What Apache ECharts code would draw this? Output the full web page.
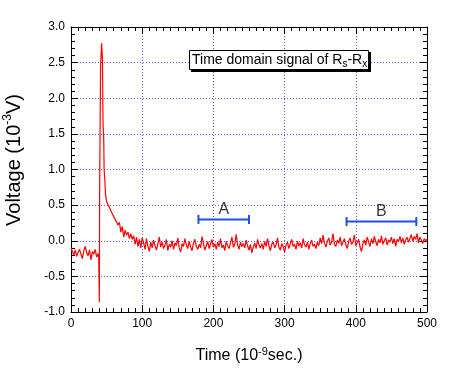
<!DOCTYPE html>
<html><head><meta charset="utf-8">
<script src="https://cdn.jsdelivr.net/npm/echarts@6/dist/echarts.min.js"></script>
<style>html,body{margin:0;padding:0;background:#fff}#c{width:454px;height:369px}</style>
</head><body><div id="c"></div>
<script>
// ---- data ----
const xTickLabels = ['0','100','200','300','400','500'];
const yTickLabels = ['-1.0','-0.5','0.0','0.5','1.0','1.5','2.0','2.5','3.0'];
const sampleStep = 2; // ns between regular samples
// baseline before the pulse, t = 0..38 ns
const preStart = 0;
const preValues = [-0.10,-0.15,-0.20,-0.13,-0.22,-0.16,-0.12,-0.19,-0.25,-0.14,
                   -0.08,-0.17,-0.21,-0.13,-0.27,-0.15,-0.19,-0.12,-0.23,-0.18];
// the pulse itself (irregular times)
const spikeTimes  = [39, 39.8, 40.2, 41.5, 43, 44.2, 45, 46, 46.5, 47.5, 48.5];
const spikeValues = [-0.26,-0.86,0.62,2.45,2.77,2.55,1.64,1.42,1.00,0.86,0.65];
// decay, t = 50..100 ns
const decayStart = 50;
const decayValues = [0.55,0.50,0.47,0.42,0.38,0.36,0.30,0.32,0.22,0.26,
                     0.12,0.20,0.05,0.15,0.08,0.12,0.03,0.10,0.02,0.07,
                     -0.05,0.05,-0.08,0.02,-0.10,0.04];
// tail, t = 102..500 ns
const tailStart = 102;
const tailValues = [
 -0.03,-0.12,0.03,-0.08,-0.15,-0.02,-0.10,0.01,-0.07,-0.13,
 -0.04,0.05,-0.09,-0.02,-0.11,-0.06,0.02,-0.14,-0.05,-0.09,
 0.00,-0.12,-0.03,-0.07,0.04,-0.10,-0.16,-0.04,-0.08,0.03,
 -0.06,-0.11,-0.01,-0.09,-0.14,-0.03,0.02,-0.08,-0.12,-0.05,
 -0.10,0.06,-0.04,-0.13,-0.07,-0.01,-0.11,-0.05,0.02,-0.09,
 -0.04,-0.12,-0.02,-0.08,0.03,-0.10,-0.06,-0.14,-0.01,-0.07,
 -0.11,-0.03,0.05,-0.09,-0.05,0.09,-0.06,-0.12,-0.02,-0.08,
 -0.04,-0.10,0.01,-0.07,-0.13,-0.05,-0.17,-0.09,-0.03,-0.11,
 0.02,-0.06,-0.10,-0.04,-0.12,-0.01,-0.08,0.03,-0.07,-0.14,
 -0.05,-0.02,-0.10,-0.06,0.04,-0.09,-0.13,-0.04,-0.08,-0.16,
 -0.06,-0.02,-0.11,-0.04,0.02,-0.08,-0.05,-0.12,-0.01,-0.07,
 -0.03,-0.10,0.03,-0.06,-0.09,-0.02,-0.12,-0.04,0.01,-0.08,
 -0.05,-0.11,-0.02,-0.07,0.04,
 -0.04,0.08,-0.03,-0.09,-0.01,0.04,-0.06,-0.02,0.10,-0.05,
 -0.08,0.01,-0.04,0.05,-0.07,-0.02,0.03,-0.06,-0.11,-0.01,
 0.04,-0.05,-0.02,0.08,-0.07,-0.03,0.02,-0.09,-0.15,-0.04,
 0.01,-0.06,0.05,-0.02,-0.08,0.03,-0.04,0.06,-0.01,-0.07,
 0.02,-0.03,0.07,-0.05,0.00,0.04,-0.06,0.01,-0.02,0.05,
 -0.04,0.03,-0.08,0.02,-0.01,0.06,-0.03,0.04,-0.05,0.01,
 0.05,-0.02,0.03,0.09,-0.01,0.06,0.02,0.10,-0.03,0.05,
 0.01,-0.04,0.03,0.00,0.02];
const markerNames = ['A','B'];
const markerFrom  = [179, 387];
const markerTo    = [250, 485];
const markerLevel = [0.30, 0.27];

// ---- build ----
const signal = [];
preValues.forEach((v,i)=>signal.push([preStart+i*sampleStep, v]));
spikeValues.forEach((v,i)=>signal.push([spikeTimes[i], v]));
decayValues.forEach((v,i)=>signal.push([decayStart+i*sampleStep, v]));
tailValues.forEach((v,i)=>signal.push([tailStart+i*sampleStep, v]));

const FONT = 'Liberation Sans, Arial, Helvetica, sans-serif';
const blue = '#1f4fe6';
const gridCol = '#5a5ae6';

const markerSeries = [];
markerNames.forEach((n,i)=>{
  markerSeries.push({
    type:'line', data:[[markerFrom[i],markerLevel[i]],[markerTo[i],markerLevel[i]]],
    symbol:'rect', symbolSize:[2,9], showSymbol:true,
    lineStyle:{color:blue,width:2}, itemStyle:{color:blue}, silent:true, z:5
  });
  markerSeries.push({
    type:'scatter', data:[[(markerFrom[i]+markerTo[i])/2, markerLevel[i]]],
    symbolSize:1, itemStyle:{color:'rgba(0,0,0,0)'}, silent:true,
    label:{show:true, position:'top', distance:1, formatter:n,
           color:'#000', fontSize:16, fontFamily:FONT}
  });
});

const xBase = {
  type:'value', min:0, max:500, interval:100,
  axisLine:{show:true, onZero:false, lineStyle:{color:'#000',width:1}},
  axisTick:{show:true, inside:true, length:7, lineStyle:{color:'#000'}},
  minorTick:{show:true, splitNumber:10, length:4, lineStyle:{color:'#000'}},
};
const yBase = {
  type:'value', min:-1, max:3, interval:0.5,
  axisLine:{show:true, onZero:false, lineStyle:{color:'#000',width:1}},
  axisTick:{show:true, inside:true, length:7, lineStyle:{color:'#000'}},
  minorTick:{show:true, splitNumber:5, length:4, lineStyle:{color:'#000'}},
};

const chart = echarts.init(document.getElementById('c'), null, {renderer:'canvas'});
chart.setOption({
  animation:false,
  backgroundColor:'#fff',
  grid:{left:71, right:27, top:27, bottom:56},
  xAxis:[
    Object.assign({}, xBase, {
      position:'bottom',
      axisLabel:{color:'#000', fontSize:12, fontFamily:FONT, margin:6,
                 formatter:(v)=>xTickLabels[Math.round(v/100)]},
      splitLine:{show:true, lineStyle:{color:gridCol, type:[1,2], width:1}},
      name:'{a|Time (10}{s|-9}{a|sec.)}', nameLocation:'middle', nameGap:34,
      nameTextStyle:{rich:{
        a:{fontSize:16, fontFamily:FONT, color:'#000', lineHeight:20},
        s:{fontSize:11, fontFamily:FONT, color:'#000', lineHeight:20, verticalAlign:'top'}
      }}
    }),
    Object.assign({}, xBase, {position:'top', axisLabel:{show:false}, splitLine:{show:false}})
  ],
  yAxis:[
    Object.assign({}, yBase, {
      position:'left',
      axisLabel:{color:'#000', fontSize:12, fontFamily:FONT, margin:6,
                 formatter:(v)=>yTickLabels[Math.round((v+1)*2)]},
      splitLine:{show:true, lineStyle:{color:gridCol, type:[1,2], width:1}}
    }),
    Object.assign({}, yBase, {position:'right', axisLabel:{show:false}, splitLine:{show:false}})
  ],
  graphic:[
    {type:'text', x:14, y:160, rotation:Math.PI/2,
     style:{text:'{a|Voltage (10}{s|-3}{a|V)}', align:'center', verticalAlign:'middle',
       rich:{a:{fontSize:20, fontFamily:FONT, fill:'#000', lineHeight:24},
             s:{fontSize:12, fontFamily:FONT, fill:'#000', lineHeight:24, verticalAlign:'top'}}}},
    {type:'rect', shape:{x:191, y:52, width:180, height:20}, style:{fill:'#000'}, z:10},
    {type:'rect', shape:{x:189.5, y:50.5, width:179, height:19}, style:{fill:'#fff', stroke:'#000', lineWidth:1}, z:11},
    {type:'text', x:192, y:60, z:12,
     style:{text:'{a|Time domain signal of R}{b|s}{a|-R}{b|x}', verticalAlign:'middle',
       rich:{a:{fontSize:14, fontFamily:FONT, fill:'#000', lineHeight:18},
             b:{fontSize:10, fontFamily:FONT, fill:'#000', lineHeight:18, verticalAlign:'bottom'}}}}
  ],
  series:[
    {type:'line', data:signal, showSymbol:false, symbol:'none',
     lineStyle:{color:'#ff0000', width:1.2}, silent:true, z:3}
  ].concat(markerSeries)
});
</script></body></html>
